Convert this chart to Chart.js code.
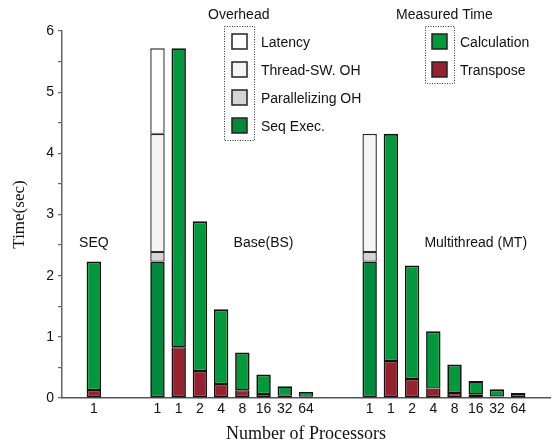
<!DOCTYPE html>
<html>
<head>
<meta charset="utf-8">
<script src="https://cdn.jsdelivr.net/npm/chart.js@4/dist/chart.umd.min.js"></script>
<style>
  html, body { margin: 0; padding: 0; background: #fff; }
  #wrap { width: 558px; height: 445px; }
</style>
</head>
<body>
<div id="wrap"><canvas id="c" width="558" height="445"></canvas></div>
<script>
// Processor counts along the x axis ('' = spacer slot between groups)
const procLabels = ['', '1', '', '', '1', '1', '2', '4', '8', '16', '32', '64', '', '', '1', '1', '2', '4', '8', '16', '32', '64', ''];

// Measured time (sec)
const transpose   = [null, 0.13, null, null, null, 0.83, 0.44, 0.23, 0.126, 0.066, 0.035, 0.02, null, null, null, 0.605, 0.31, 0.155, 0.082, 0.06, 0.025, 0.015, null];
const calculation = [null, 2.10, null, null, null, 4.89, 2.45, 1.22, 0.617, 0.317, 0.158, 0.08, null, null, null, 3.715, 1.857, 0.935, 0.465, 0.218, 0.117, 0.067, null];

// Overhead breakdown (sec) for the single-processor BS and MT runs
const seqExec       = [null, null, null, null, 2.23, null, null, null, null, null, null, null, null, null, 2.23, null, null, null, null, null, null, null, null];
const parallelOH    = [null, null, null, null, 0.155, null, null, null, null, null, null, null, null, null, 0.155, null, null, null, null, null, null, null, null];
const threadSwOH    = [null, null, null, null, 1.935, null, null, null, null, null, null, null, null, null, 1.935, null, null, null, null, null, null, null, null];
const latency       = [null, null, null, null, 1.40, null, null, null, null, null, null, null, null, null, null, null, null, null, null, null, null, null, null];

// Group captions: [text, category index, y value]
const groupNotes = [['SEQ', 1, 2.53], ['Base(BS)', 9, 2.53], ['Multithread (MT)', 19, 2.53]];

const COL = {
  calc: '#009a3d', trans: '#98202f', seq: '#008a3b',
  par: '#d4d4d4', thr: '#f4f4f4', lat: '#ffffff'
};

const SANS = "'Liberation Sans', Arial, sans-serif";
const SERIF = "'Liberation Serif', 'Times New Roman', serif";
Chart.defaults.font.family = SANS;
Chart.defaults.color = '#111';

// Neighbouring segments each contribute half of the line between them.
const barCommon = { stack: 's', barPercentage: 0.68, categoryPercentage: 1.0, borderSkipped: false };
const edgeBase = { top: 1.3, left: 1.7, right: 1.7, bottom: 1.7 };
const edgeTop = { top: 1.9, left: 1.7, right: 1.7, bottom: 1.3 };
const edgeMid = { top: 1.2, left: 1.4, right: 1.4, bottom: 1.1 };

const datasets = [
  { label: 'Transpose', data: transpose, backgroundColor: COL.trans, borderColor: '#111', borderWidth: edgeBase, ...barCommon },
  { label: 'Calculation', data: calculation, backgroundColor: COL.calc, borderColor: '#111', borderWidth: edgeTop, ...barCommon },
  { label: 'Seq Exec.', data: seqExec, backgroundColor: COL.seq, borderColor: '#1a1a1a', borderWidth: edgeBase, ...barCommon },
  { label: 'Parallelizing OH', data: parallelOH, backgroundColor: COL.par, borderColor: '#2a2a2a', borderWidth: edgeMid, ...barCommon },
  { label: 'Thread-SW. OH', data: threadSwOH, backgroundColor: COL.thr, borderColor: '#2a2a2a', borderWidth: { ...edgeMid, top: 1.5 }, ...barCommon },
  { label: 'Latency', data: latency, backgroundColor: COL.lat, borderColor: '#2a2a2a', borderWidth: { ...edgeMid, top: 1.7 }, ...barCommon }
];

// Two boxed legends with dotted frames plus the group captions
const decorations = {
  id: 'decorations',
  afterDraw(chart) {
    const ctx = chart.ctx;
    const xs = chart.scales.x, ys = chart.scales.y;
    ctx.save();
    ctx.font = '14px ' + SANS;
    ctx.fillStyle = '#111';
    ctx.textAlign = 'center';
    ctx.textBaseline = 'middle';
    groupNotes.forEach(([t, i, v]) => ctx.fillText(t, xs.getPixelForValue(i), ys.getPixelForValue(v)));

    const drawLegend = (title, titleX, frame, boxX, textX, items) => {
      ctx.font = '14px ' + SANS;
      ctx.textAlign = 'left';
      ctx.fillStyle = '#111';
      ctx.fillText(title, titleX, 15);
      ctx.setLineDash([1, 1.5]);
      ctx.lineWidth = 1;
      ctx.strokeStyle = '#333';
      ctx.strokeRect(frame[0] + 0.5, frame[1] + 0.5, frame[2], frame[3]);
      ctx.setLineDash([]);
      items.forEach((ds, k) => {
        const cy = 41 + k * 28;
        ctx.fillStyle = ds.backgroundColor;
        ctx.fillRect(boxX, cy - 7, 15, 15);
        ctx.lineWidth = 1.5;
        ctx.strokeStyle = '#222';
        ctx.strokeRect(boxX, cy - 7, 15, 15);
        ctx.fillStyle = '#111';
        ctx.fillText(ds.label, textX, cy + 2);
      });
    };
    const ds = chart.data.datasets;
    const byLabel = l => ds.find(d => d.label === l);
    drawLegend('Overhead', 208, [224, 26, 30, 114], 232, 261,
      ['Latency', 'Thread-SW. OH', 'Parallelizing OH', 'Seq Exec.'].map(byLabel));
    drawLegend('Measured Time', 396, [425, 26, 29, 57], 432, 460,
      ['Calculation', 'Transpose'].map(byLabel));
    ctx.restore();
  }
};

new Chart(document.getElementById('c'), {
  type: 'bar',
  data: { labels: procLabels, datasets },
  options: {
    responsive: false,
    animation: false,
    devicePixelRatio: 1,
    layout: { padding: { top: 31, right: 8, left: 0, bottom: 0 } },
    plugins: { legend: { display: false }, tooltip: { enabled: false } },
    scales: {
      x: {
        stacked: true,
        grid: { display: false, drawTicks: false, tickLength: 0 },
        border: { display: true, color: '#555', width: 1.5 },
        ticks: { font: { size: 14 }, color: '#111', padding: 3, autoSkip: false, maxRotation: 0 },
        title: { display: true, text: 'Number of Processors', font: { family: SERIF, size: 18 }, color: '#111', padding: { top: 10, bottom: 0 } },
        afterFit(s) { s.height = 47; }
      },
      y: {
        stacked: true,
        min: 0, max: 6,
        grid: { drawOnChartArea: false, drawTicks: true, tickLength: 4, color: '#666', lineWidth: 1.2 },
        border: { display: true, color: '#666', width: 1.5 },
        ticks: {
          stepSize: 0.5, font: { size: 14 }, color: '#111', padding: 4,
          callback: v => Number.isInteger(v) ? String(v) : ''
        },
        title: { display: true, text: 'Time(sec)', font: { family: SERIF, size: 17 }, color: '#111', padding: { top: 9, bottom: 4 } },
        afterFit(s) { s.width = 62; }
      }
    }
  },
  plugins: [decorations]
});
</script>
</body>
</html>
